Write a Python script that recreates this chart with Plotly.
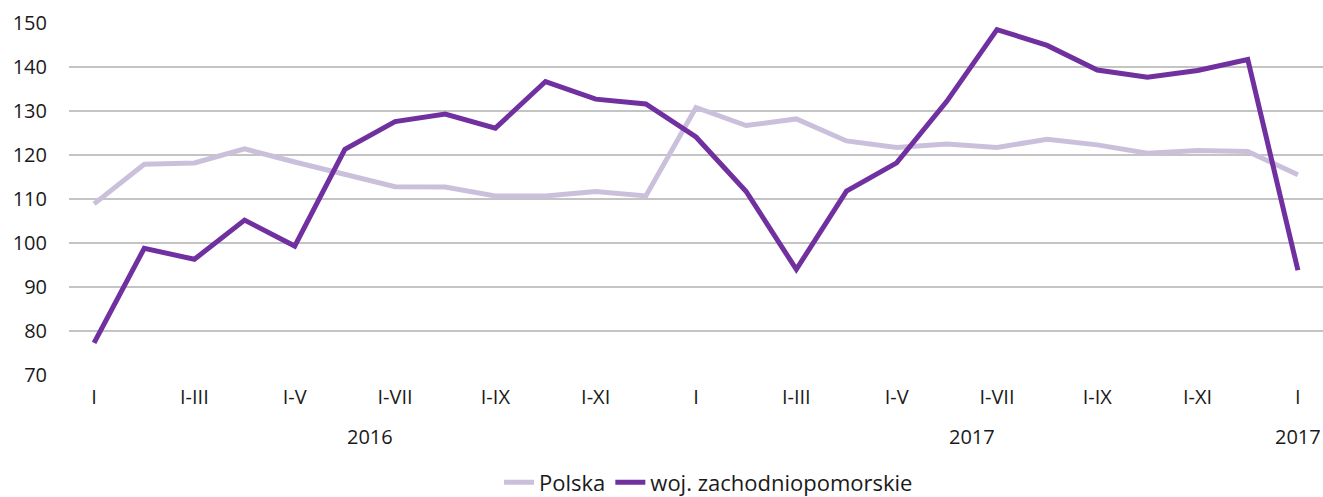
import plotly.graph_objects as go

tick_labels = ["I", "I-III", "I-V", "I-VII", "I-IX", "I-XI",
               "I", "I-III", "I-V", "I-VII", "I-IX", "I-XI", "I"]
year_labels = ["2016", "2017", "2017"]
year_positions = [5.5, 17.5, 24]

polska = [108.9, 117.9, 118.2, 121.4, 118.4, 115.7, 112.8, 112.7, 110.7, 110.7,
          111.7, 110.7, 130.8, 126.7, 128.2, 123.2, 121.7, 122.5, 121.7, 123.6,
          122.3, 120.4, 121.0, 120.8, 115.5]
zachodniopomorskie = [77.3, 98.8, 96.3, 105.2, 99.3, 121.3, 127.6, 129.3, 126.1, 136.7,
                      132.7, 131.6, 124.1, 111.7, 94.0, 111.8, 118.2, 132.2, 148.5, 144.9,
                      139.3, 137.7, 139.2, 141.7, 93.8]

x = list(range(len(polska)))
FONT = "Open Sans"
TXT = "#1a1a1a"

fig = go.Figure()
fig.add_trace(go.Scatter(x=x, y=polska, mode="lines", name="Polska",
                         line=dict(color="#CBC0DB", width=5)))
fig.add_trace(go.Scatter(x=x, y=zachodniopomorskie, mode="lines",
                         name="woj. zachodniopomorskie",
                         line=dict(color="#7030A0", width=5)))

for lab, pos in zip(year_labels, year_positions):
    fig.add_annotation(x=pos, y=-0.175, xref="x", yref="paper", text=lab,
                       showarrow=False, font=dict(family=FONT, size=20, color=TXT),
                       yanchor="middle")

fig.update_layout(
    width=1323, height=497,
    margin=dict(l=69, r=0, t=23, b=122, autoexpand=False),
    plot_bgcolor="white", paper_bgcolor="white",
    font=dict(family=FONT, size=20, color=TXT),
    showlegend=True,
    legend=dict(orientation="h", x=0.51, xanchor="center", y=-0.305,
                yanchor="middle", font=dict(size=22), traceorder="normal"),
    xaxis=dict(range=[-0.5, 24.5], tickvals=list(range(0, 25, 2)),
               ticktext=tick_labels, showgrid=False, zeroline=False,
               showline=False, ticks="", ticklabelstandoff=8),
    yaxis=dict(range=[70, 150], dtick=10, showgrid=True, gridcolor="#C4C4C4",
               gridwidth=2, zeroline=False, showline=False, ticks="",
               ticklabelstandoff=21),
)

fig.write_html(
    "out.html",
    config={"displayModeBar": False},
    post_script="document.body.style.margin='0';document.body.style.overflow='hidden';",
)
